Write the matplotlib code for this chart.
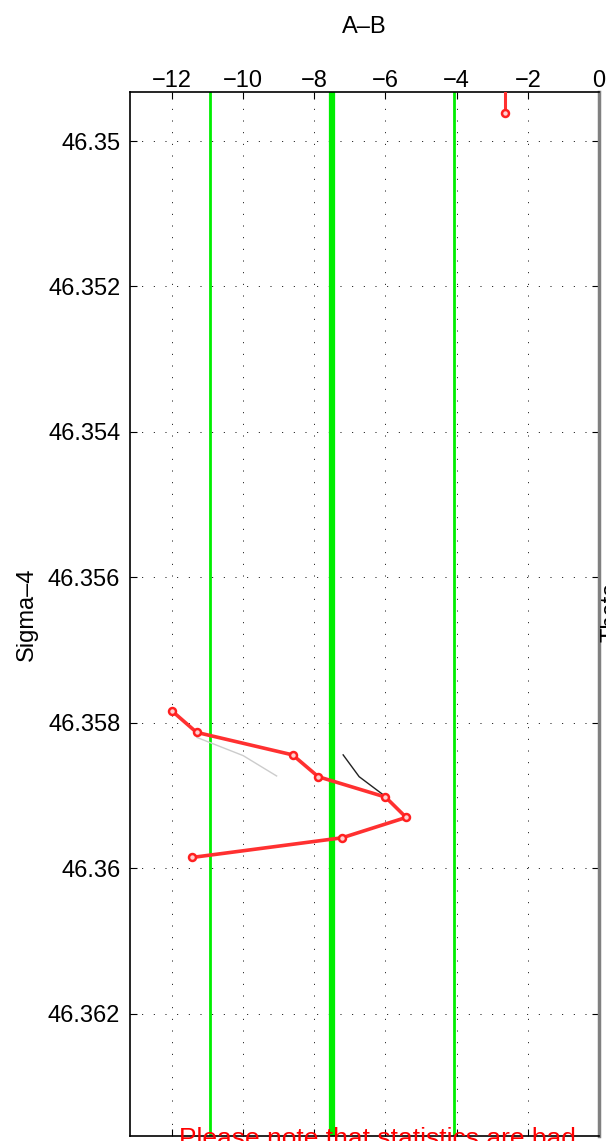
import matplotlib
matplotlib.use("Agg")
import matplotlib.pyplot as plt

plt.rcParams['font.family'] = ['Liberation Sans', 'DejaVu Sans']

# data
red_x = [-11.99, -11.31, -8.61, -7.89, -6.00, -5.42, -7.22, -11.43]
red_y = [46.35784, 46.35813, 46.35844, 46.35874, 46.35902, 46.35930, 46.35958, 46.35985]
top_x = [-2.63, -2.63]
top_y = [46.3490, 46.34962]
gray_x = [-11.30, -10.00, -9.06]
gray_y = [46.35820, 46.35845, 46.35873]
black_x = [-7.19, -6.74, -6.06]
black_y = [46.35844, 46.35874, 46.35899]
green_thin = [-10.92, -4.08]
green_thick = [-7.50]
x_ticks = [-12, -10, -8, -6, -4, -2, 0]
x_labels = ['\u221212', '\u221210', '\u22128', '\u22126', '\u22124', '\u22122', '0']
y_ticks = [46.350, 46.352, 46.354, 46.356, 46.358, 46.360, 46.362]
y_labels = ['46.35', '46.352', '46.354', '46.356', '46.358', '46.36', '46.362']

fig = plt.figure(figsize=(6.06, 11.41), dpi=100)
ax = fig.add_axes([130/606, 1 - 1136/1141, (599 - 130)/606, (1136 - 92.3)/1141])

ax.set_xlim(-13.18, 0)
ax.set_ylim(46.36368, 46.34933)

ax.set_xticks(x_ticks)
ax.set_xticklabels(x_labels)
ax.set_yticks(y_ticks)
ax.set_yticklabels(y_labels)
ax.xaxis.tick_top()
ax.xaxis.set_label_position('top')
ax.tick_params(axis='both', which='both', direction='in', length=5, width=0.8,
               top=True, bottom=True, left=True, right=True, labelsize=17)
ax.tick_params(axis='x', pad=0.5)
ax.tick_params(axis='y', pad=7)

ax.grid(True, color='black', linewidth=0.7, linestyle=(0, (1, 11)))
ax.set_axisbelow(True)

for xv in green_thin:
    ax.axvline(xv, color='#00ee00', linewidth=2.0, zorder=2)
for xv in green_thick:
    ax.axvline(xv, color='#00ee00', linewidth=4.5, zorder=2)

ax.plot(gray_x, gray_y, color='#cccccc', linewidth=1.0, zorder=3)
ax.plot(black_x, black_y, color='#222222', linewidth=1.0, zorder=3)
ax.plot(red_x, red_y, color='#ff3030', linewidth=2.6, marker='o', markersize=5,
        markerfacecolor='#ffd0d0', markeredgecolor='#ff2020', markeredgewidth=1.8, zorder=4)
ax.plot(top_x, top_y, color='#ff3030', linewidth=2.2, zorder=4)
ax.plot(top_x[1:], top_y[1:], linestyle='none', marker='o', markersize=5,
        markerfacecolor='#ffd0d0', markeredgecolor='#ff2020', markeredgewidth=1.8, zorder=5)

for s in ['left', 'top', 'bottom']:
    ax.spines[s].set_linewidth(1.2)
    ax.spines[s].set_color('black')
ax.spines['right'].set_color('#808080')
ax.spines['right'].set_linewidth(2.5)

ax.set_xlabel('A\u2013B', fontsize=17, labelpad=26)
ax.set_ylabel('Sigma\u20134', fontsize=17, labelpad=7)

fig.text(600/606, 1 - 642/1141, 'Theta', rotation=90, fontsize=17,
         ha='left', va='bottom', color='black')
fig.text(179/606, 1 - 1146/1141, 'Please note that statistics are bad', fontsize=19,
         color='red', ha='left', va='baseline')

fig.savefig('out.png', dpi=100)
